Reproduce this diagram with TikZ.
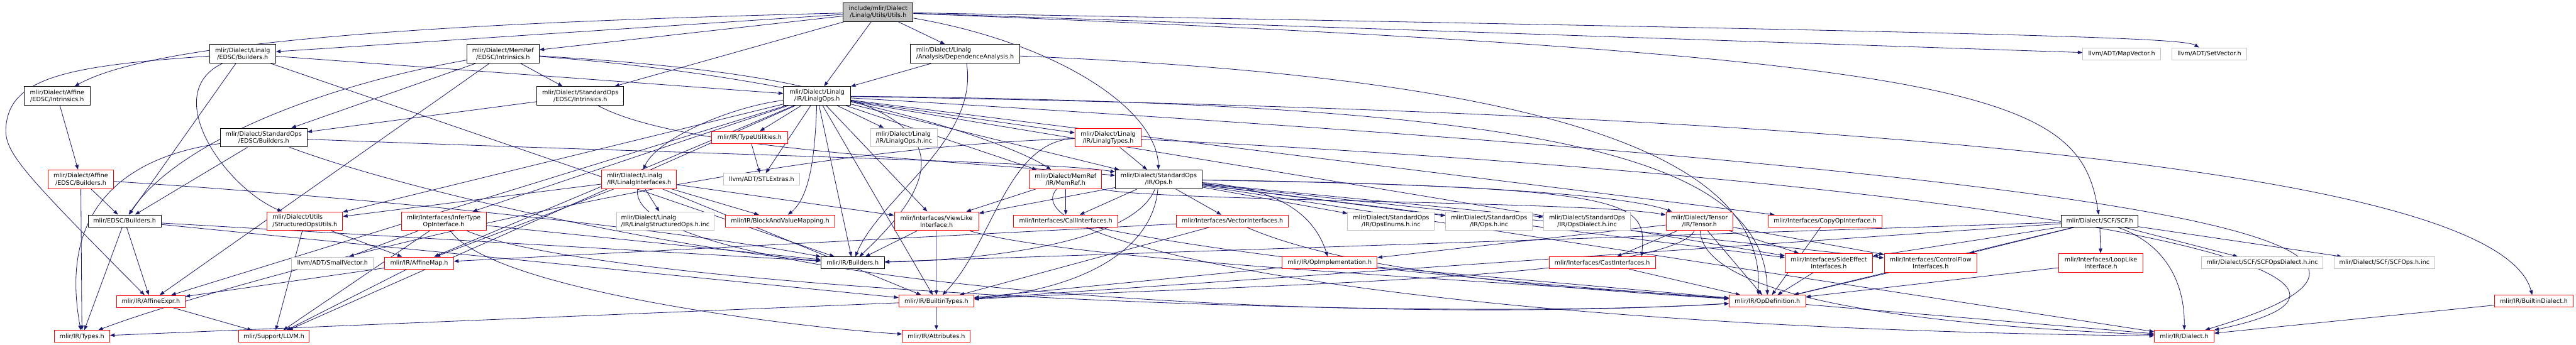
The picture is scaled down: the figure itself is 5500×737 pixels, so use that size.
\documentclass[tikz,border=0pt]{standalone}
\usepackage{fontspec}
\setmainfont{DejaVu Sans}
\usetikzlibrary{arrows.meta}
\definecolor{edgeblue}{HTML}{191970}
\definecolor{greyss}{HTML}{BFBFBF}
\pgfdeclarelayer{bglines}
\pgfsetlayers{bglines,main}
\begin{document}
\begin{tikzpicture}[x=1pt,y=-1pt,
  nbox/.style={rectangle, draw=black, fill=white, line width=1.3pt, inner sep=0pt,
    font=\fontsize{12.9}{15}\selectfont, align=center, text=black},
  rbox/.style={nbox, draw=red},
  gbox/.style={nbox, draw=greyss},
  mbox/.style={nbox, fill=greyss},
  two/.style={minimum height=40pt},
  one/.style={minimum height=25.5pt},
  eline/.style={draw=edgeblue, line width=1.1pt, -{Triangle[length=10pt,width=7.5pt]}},
]
\useasboundingbox (0,0) rectangle (5500,737);
% ---------------- nodes ----------------
\node[mbox,two,minimum width=149pt] (main) at (1875,26) {include/mlir/Dialect\\/Linalg/Utils/Utils.h};
\node[nbox,two,minimum width=141pt] (LinEDSCB) at (518,115) {mlir/Dialect/Linalg\\/EDSC/Builders.h};
\node[nbox,two,minimum width=154pt] (MemRefEDSCIntr) at (1074,115) {mlir/Dialect/MemRef\\/EDSC/Intrinsics.h};
\node[nbox,two,minimum width=234pt,align=left] (DepAn) at (2060.5,115) {mlir/Dialect/Linalg\\/Analysis/DependenceAnalysis.h};
\node[gbox,one,minimum width=166pt] (MapVector) at (4530,115) {llvm/ADT/MapVector.h};
\node[gbox,one,minimum width=160pt] (SetVector) at (4717,115) {llvm/ADT/SetVector.h};
\node[nbox,two,minimum width=140pt] (AffEDSCIntr) at (122,205) {mlir/Dialect/Affine\\/EDSC/Intrinsics.h};
\node[nbox,two,minimum width=185pt] (StdEDSCIntr) at (1239,205) {mlir/Dialect/StandardOps\\/EDSC/Intrinsics.h};
\node[nbox,two,minimum width=143pt] (LinalgOps) at (1744.5,205) {mlir/Dialect/Linalg\\/IR/LinalgOps.h};
\node[nbox,two,minimum width=185pt] (StdEDSCB) at (563,294) {mlir/Dialect/StandardOps\\/EDSC/Builders.h};
\node[rbox,one,minimum width=163pt] (TypeUtil) at (1600.5,293.5) {mlir/IR/TypeUtilities.h};
\node[gbox,two,minimum width=143pt,align=left] (LinalgOpsInc) at (1930,294) {mlir/Dialect/Linalg\\/IR/LinalgOps.h.inc};
\node[rbox,two,minimum width=141pt] (LinalgTypes) at (2366,294) {mlir/Dialect/Linalg\\/IR/LinalgTypes.h};
\node[rbox,two,minimum width=140pt] (AffEDSCB) at (172.5,383) {mlir/Dialect/Affine\\/EDSC/Builders.h};
\node[rbox,two,minimum width=160pt,align=left] (LinalgIfc) at (1364.7,383.3) {mlir/Dialect/Linalg\\/IR/LinalgInterfaces.h};
\node[gbox,one,minimum width=162pt] (STLExtras) at (1626,383.3) {llvm/ADT/STLExtras.h};
\node[rbox,two,minimum width=154pt] (MemRefIR) at (2275,383.3) {mlir/Dialect/MemRef\\/IR/MemRef.h};
\node[nbox,two,minimum width=185pt] (StdOps) at (2474,383.3) {mlir/Dialect/StandardOps\\/IR/Ops.h};
\node[nbox,one,minimum width=156pt] (EDSCB) at (266,472) {mlir/EDSC/Builders.h};
\node[rbox,two,minimum width=161pt,align=left] (SOUtils) at (651,472.5) {mlir/Dialect/Utils\\/StructuredOpsUtils.h};
\node[rbox,two,minimum width=181pt] (InferType) at (947.5,472.7) {mlir/Interfaces/InferType\\OpInterface.h};
\node[gbox,two,minimum width=209pt,align=left] (LSOInc) at (1420.5,472.7) {mlir/Dialect/Linalg\\/IR/LinalgStructuredOps.h.inc};
\node[rbox,one,minimum width=234pt] (BVMap) at (1665.7,472.3) {mlir/IR/BlockAndValueMapping.h};
\node[rbox,two,minimum width=180pt] (ViewLike) at (1999.5,472.7) {mlir/Interfaces/ViewLike\\Interface.h};
\node[rbox,one,minimum width=222pt] (CallIfc) at (2275.5,472.3) {mlir/Interfaces/CallInterfaces.h};
\node[rbox,one,minimum width=239pt] (VecIfc) at (2631.4,472.3) {mlir/Interfaces/VectorInterfaces.h};
\node[gbox,two,minimum width=185pt] (OpsEnumsInc) at (2970,472.7) {mlir/Dialect/StandardOps\\/IR/OpsEnums.h.inc};
\node[gbox,two,minimum width=185pt] (OpsInc) at (3179.4,472.7) {mlir/Dialect/StandardOps\\/IR/Ops.h.inc};
\node[gbox,two,minimum width=185pt] (OpsDialInc) at (3388.5,472.7) {mlir/Dialect/StandardOps\\/IR/OpsDialect.h.inc};
\node[rbox,two,minimum width=143pt] (Tensor) at (3628.6,472.7) {mlir/Dialect/Tensor\\/IR/Tensor.h};
\node[rbox,one,minimum width=243pt] (CopyOp) at (3896.6,472.3) {mlir/Interfaces/CopyOpInterface.h};
\node[nbox,one,minimum width=164pt] (SCF) at (4483,472.3) {mlir/Dialect/SCF/SCF.h};
\node[gbox,one,minimum width=174pt] (SmallVector) at (710,562) {llvm/ADT/SmallVector.h};
\node[rbox,one,minimum width=147pt] (AffineMap) at (895,562) {mlir/IR/AffineMap.h};
\node[nbox,one,minimum width=135pt] (IRBuilders) at (1820.5,561.7) {mlir/IR/Builders.h};
\node[rbox,one,minimum width=203pt] (OpImpl) at (2839,561.7) {mlir/IR/OpImplementation.h};
\node[rbox,one,minimum width=227pt] (CastIfc) at (3420.8,561.7) {mlir/Interfaces/CastInterfaces.h};
\node[rbox,two,minimum width=187pt] (SideEffect) at (3904.7,561.7) {mlir/Interfaces/SideEffect\\Interfaces.h};
\node[rbox,two,minimum width=198pt] (ControlFlow) at (4122,561.7) {mlir/Interfaces/ControlFlow\\Interfaces.h};
\node[rbox,two,minimum width=179pt] (LoopLike) at (4485.6,561.7) {mlir/Interfaces/LoopLike\\Interface.h};
\node[gbox,one,minimum width=260pt] (SCFDialInc) at (4830,561.7) {mlir/Dialect/SCF/SCFOpsDialect.h.inc};
\node[gbox,one,minimum width=214pt] (SCFOpsInc) at (5091,561.7) {mlir/Dialect/SCF/SCFOps.h.inc};
\node[rbox,one,minimum width=146pt] (AffineExpr) at (322,644) {mlir/IR/AffineExpr.h};
\node[rbox,one,minimum width=160pt] (BuiltinTypes) at (1999.2,643.7) {mlir/IR/BuiltinTypes.h};
\node[rbox,one,minimum width=163pt] (OpDef) at (3773.6,643.7) {mlir/IR/OpDefinition.h};
\node[rbox,one,minimum width=169pt] (BuiltinDialect) at (5410,643.7) {mlir/IR/BuiltinDialect.h};
\node[rbox,one,minimum width=118pt] (Types) at (175,719) {mlir/IR/Types.h};
\node[rbox,one,minimum width=151pt] (LLVM) at (585,719) {mlir/Support/LLVM.h};
\node[rbox,one,minimum width=145pt] (Attributes) at (1999.2,718.3) {mlir/IR/Attributes.h};
\node[rbox,one,minimum width=127pt] (Dialect) at (4663.3,718.3) {mlir/IR/Dialect.h};
% ---------------- edges ----------------
\begin{pgfonlayer}{bglines}
% main
\draw[eline] (main) .. controls (900,50) and (330,90) .. (AffEDSCIntr);
\draw[eline] (main) -- (LinEDSCB);
\draw[eline] (main) -- (MemRefEDSCIntr);
\draw[eline] (main) -- (DepAn);
\draw[eline] (main) -- (LinalgOps);
\draw[eline] (main) -- (StdEDSCIntr);
\draw[eline] (main) .. controls (2250,90) and (2470,230) .. (StdOps);
\draw[eline] (main) .. controls (4250,120) and (4440,200) .. (SCF);
\draw[eline] (main) -- (MapVector);
\draw[eline] (main) .. controls (4300,70) and (4660,80) .. (SetVector);
% Linalg EDSC builders
\draw[eline] (LinEDSCB) -- (LinalgOps);
\draw[eline] (LinEDSCB) .. controls (340,200) and (480,400) .. (SOUtils);
\draw[eline] (LinEDSCB) -- (EDSCB);
\draw[eline] (LinEDSCB) .. controls (150,140) and (30,165) .. (14,260) .. controls (5,320) and (25,345) .. (AffineExpr);
\draw[eline] (LinEDSCB) -- (IRBuilders);
% MemRef EDSC intrinsics
\draw[eline] (MemRefEDSCIntr) -- (StdEDSCIntr);
\draw[eline] (MemRefEDSCIntr) -- (StdEDSCB);
\draw[eline] (MemRefEDSCIntr) .. controls (700,180) and (380,300) .. (EDSCB);
\draw[eline] (MemRefEDSCIntr) -- (AffineExpr);
\draw[eline] (MemRefEDSCIntr) .. controls (1750,165) and (2150,300) .. (MemRefIR);
\draw[eline] (MemRefEDSCIntr) .. controls (2000,170) and (2100,300) .. (IRBuilders);
% Dependence analysis
\draw[eline] (DepAn) -- (LinalgOps);
\draw[eline] (DepAn) .. controls (2090,300) and (1880,420) .. (IRBuilders);
\draw[eline] (DepAn) .. controls (3400,170) and (3770,360) .. ([xshift=-20pt]OpDef.north);
% Affine EDSC
\draw[eline] (AffEDSCIntr) -- (AffEDSCB);
\draw[eline] (AffEDSCB) -- (EDSCB);
\draw[eline] (AffEDSCB) -- (Types);
\draw[eline] (AffEDSCB) .. controls (900,430) and (1500,500) .. (IRBuilders);
% Standard EDSC
\draw[eline] (StdEDSCIntr) -- (StdEDSCB);
\draw[eline] (StdEDSCIntr) .. controls (1450,320) and (2000,340) .. (StdOps);
\draw[eline] (StdEDSCB) .. controls (300,330) and (120,420) .. (Types);
\draw[eline] (StdEDSCB) -- (EDSCB);
\draw[eline] (StdEDSCB) .. controls (1500,330) and (2250,345) .. (StdOps);
\draw[eline] (StdEDSCB) .. controls (900,420) and (1500,540) .. (IRBuilders);
% EDSC builders
\draw[eline] (EDSCB) -- (Types);
\draw[eline] (EDSCB) -- (AffineExpr);
\draw[eline] (EDSCB) -- (IRBuilders);
\draw[eline] (EDSCB) -- (BuiltinTypes);
% LinalgOps
\draw[eline] (LinalgOps) -- (TypeUtil);
\draw[eline] (LinalgOps) -- (STLExtras);
\draw[eline] (LinalgOps) .. controls (1550,230) and (1400,300) .. (LinalgIfc);
\draw[eline] (LinalgOps) -- (LinalgOpsInc);
\draw[eline] (LinalgOps) -- (LinalgTypes);
\draw[eline] (LinalgOps) -- (MemRefIR);
\draw[eline] (LinalgOps) -- (StdOps);
\draw[eline] (LinalgOps) .. controls (4500,250) and (5350,420) .. (BuiltinDialect);
\draw[eline] (LinalgOps) -- (SOUtils);
\draw[eline] (LinalgOps) -- (AffineExpr);
\draw[eline] (LinalgOps) -- (AffineMap);
\draw[eline] (LinalgOps) .. controls (1740,330) and (1730,420) .. (BVMap);
\draw[eline] (LinalgOps) -- (IRBuilders);
\draw[eline] (LinalgOps) -- (InferType);
\draw[eline] (LinalgOps) -- (ViewLike);
\draw[eline] (LinalgOps) -- (CopyOp);
\draw[eline] (LinalgOps) -- (SideEffect);
\draw[eline] (LinalgOps) -- (BuiltinTypes);
\draw[eline] (LinalgOps) .. controls (3300,220) and (3770,330) .. (OpDef);
\draw[eline] (LinalgOps) .. controls (4700,380) and (5330,520) .. (Dialect);
\draw[eline] (LinalgOps) -- (LLVM);
\draw[eline] (TypeUtil) -- (STLExtras);
% LinalgTypes
\draw[eline] (LinalgTypes) -- (StdOps);
\draw[eline] (LinalgTypes) .. controls (4500,400) and (5240,600) .. (Dialect);
\draw[eline] (LinalgTypes) .. controls (2150,300) and (2120,520) .. (BuiltinTypes);
\draw[eline] (LinalgTypes) .. controls (1500,320) and (430,620) .. (Types);
% LinalgInterfaces
\draw[eline] (LinalgIfc) -- (LSOInc);
\draw[eline] (LinalgIfc) -- (BVMap);
\draw[eline] (LinalgIfc) -- (SOUtils);
\draw[eline] (LinalgIfc) -- (AffineMap);
\draw[eline] (LinalgIfc) -- (ViewLike);
\draw[eline] (LinalgIfc) .. controls (1330,600) and (2800,700) .. (OpDef);
\draw[eline] (LinalgIfc) -- (BuiltinTypes);
% MemRef IR
\draw[eline] (MemRefIR) -- (ViewLike);
\draw[eline] (MemRefIR) -- (CallIfc);
\draw[eline] (MemRefIR) .. controls (2450,430) and (3400,430) .. (Tensor);
\draw[eline] (MemRefIR) .. controls (2150,520) and (3000,700) .. (Dialect);
% StandardOps IR
\draw[eline] (StdOps) -- (OpsEnumsInc);
\draw[eline] (StdOps) -- (OpsInc);
\draw[eline] (StdOps) -- (OpsDialInc);
\draw[eline] (StdOps) .. controls (2420,520) and (2100,555) .. (IRBuilders);
\draw[eline] (StdOps) .. controls (2460,540) and (2300,620) .. (BuiltinTypes);
\draw[eline] (StdOps) -- (ViewLike);
\draw[eline] (StdOps) -- (CallIfc);
\draw[eline] (StdOps) -- (VecIfc);
\draw[eline] (StdOps) -- (Dialect);
\draw[eline] (StdOps) .. controls (2700,400) and (2800,440) .. (OpImpl);
\draw[eline] (StdOps) .. controls (3500,400) and (3515,430) .. ([xshift=-30pt]CastIfc.north east);
\draw[eline] (StdOps) .. controls (3000,390) and (3450,410) .. (Tensor);
\draw[eline] (StdOps) -- (SideEffect);
\draw[eline] (StdOps) -- (ControlFlow);
% misc interfaces
\draw[eline] (SOUtils) -- (AffineMap);
\draw[eline] (SOUtils) -- (LLVM);
\draw[eline] (InferType) -- (SmallVector);
\draw[eline] (InferType) -- (LLVM);
\draw[eline] (InferType) .. controls (1050,620) and (1700,700) .. (Attributes);
\draw[eline] (InferType) -- (IRBuilders);
\draw[eline] (InferType) .. controls (1300,620) and (3000,690) .. (OpDef);
\draw[eline] (ViewLike) -- (IRBuilders);
\draw[eline] (ViewLike) -- (BuiltinTypes);
\draw[eline] (ViewLike) .. controls (2300,560) and (3200,600) .. (OpDef);
\draw[eline] (CallIfc) .. controls (2700,560) and (3300,610) .. (OpDef);
\draw[eline] (VecIfc) -- (AffineMap);
\draw[eline] (VecIfc) -- (BuiltinTypes);
\draw[eline] (VecIfc) .. controls (2900,590) and (3400,620) .. (OpDef);
% Tensor
\draw[eline] (Tensor) -- (CastIfc);
\draw[eline] (Tensor) -- (OpDef);
\draw[eline] (Tensor) -- (SideEffect);
\draw[eline] (Tensor) -- (ControlFlow);
\draw[eline] (Tensor) .. controls (3640,660) and (4250,700) .. (Dialect);
\draw[eline] (Tensor) -- (OpImpl);
\draw[eline] (Tensor) .. controls (3560,600) and (2600,610) .. (BuiltinTypes);
% lower level
\draw[eline] (CopyOp) -- (OpDef);
\draw[eline] (SideEffect) -- (OpDef);
\draw[eline] (ControlFlow) -- (OpDef);
\draw[eline] (LoopLike) -- (OpDef);
\draw[eline] (CastIfc) -- (OpDef);
\draw[eline] (OpImpl) -- (OpDef);
\draw[eline] (OpImpl) -- (BuiltinTypes);
\draw[eline] (OpDef) -- (Dialect);
% SCF
\draw[eline] (SCF) .. controls (4620,520) and (4665,600) .. (Dialect);
\draw[eline] (SCF) -- (LoopLike);
\draw[eline] (SCF) -- (ControlFlow);
\draw[eline] (SCF) -- (SideEffect);
\draw[eline] (SCF) -- (SCFDialInc);
\draw[eline] (SCF) -- (SCFOpsInc);
\draw[eline] (SCF) -- (IRBuilders);
\draw[eline] (SCF) -- (OpDef);
\draw[eline] (SCF) -- (BuiltinTypes);
\draw[eline] (BuiltinDialect) -- (Dialect);
% IR core
\draw[eline] (AffineMap) -- (AffineExpr);
\draw[eline] (AffineMap) -- (LLVM);
\draw[eline] (AffineExpr) -- (LLVM);
\draw[eline] (BuiltinTypes) -- (Attributes);
\draw[eline] (BuiltinTypes) -- (Types);
\end{pgfonlayer}
\end{tikzpicture}
\end{document}
